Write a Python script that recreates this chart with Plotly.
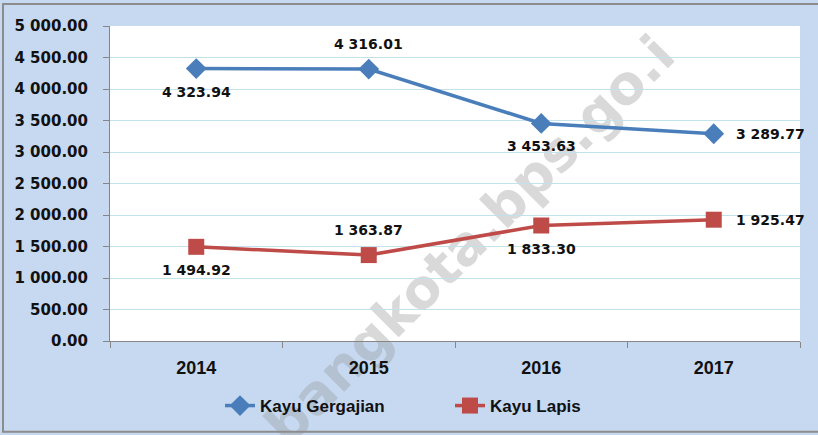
import plotly.graph_objects as go

years = ["2014", "2015", "2016", "2017"]
kayu_gergajian = [4323.94, 4316.01, 3453.63, 3289.77]
kayu_lapis = [1494.92, 1363.87, 1833.30, 1925.47]
y_ticks = [0, 500, 1000, 1500, 2000, 2500, 3000, 3500, 4000, 4500, 5000]

# label placement per point (style only)
pos_gergajian = ["below", "above", "below", "right"]
pos_lapis = ["below", "above", "below", "right"]

BLUE = "#4a7ebb"
RED = "#be4b48"
BG = "#c6d9f1"

W, H = 818, 435
L, R, T, B = 110, 18, 26, 93
pw, ph = W - L - R, H - T - B

def px2paper(px, py):
    return (px - L) / pw, (H - B - py) / ph

def fmt(v):
    s = f"{v:,.2f}"
    return s.replace(",", " ")

fig = go.Figure()
fig.add_trace(go.Scatter(
    x=years, y=kayu_gergajian, name="Kayu Gergajian", mode="lines+markers",
    line=dict(color=BLUE, width=3.5),
    marker=dict(symbol="diamond", size=16, color=BLUE),
))
fig.add_trace(go.Scatter(
    x=years, y=kayu_lapis, name="Kayu Lapis", mode="lines+markers",
    line=dict(color=RED, width=3.5),
    marker=dict(symbol="square", size=16, color=RED),
))

label_font = dict(family="DejaVu Sans", size=14, color="#111111", weight="bold")
annotations = []
for vals, poss in ((kayu_gergajian, pos_gergajian), (kayu_lapis, pos_lapis)):
    for i, (v, p) in enumerate(zip(vals, poss)):
        a = dict(x=i, y=v, xref="x", yref="y", text=fmt(v), showarrow=False,
                 font=label_font)
        if p == "below":
            a.update(yshift=-23, xanchor="center", yanchor="middle")
        elif p == "above":
            a.update(yshift=25, xanchor="center", yanchor="middle")
        else:
            a.update(xshift=20, xanchor="left", yanchor="middle")
        annotations.append(a)

shapes = []
# watermark (drawn beneath the data)
wx, wy = px2paper(467, 238)
shapes.append(dict(
    type="rect", xref="paper", yref="paper",
    x0=wx - 0.01, x1=wx + 0.01, y0=wy - 0.01, y1=wy + 0.01,
    line=dict(width=0), fillcolor="rgba(0,0,0,0)", layer="below",
    label=dict(text="bangkota.bps.go.i", textangle=-45, textposition="middle center",
               font=dict(family="DejaVu Sans", size=54, color="rgba(150,150,150,0.36)",
                         weight="bold")),
))

bx0, by0 = px2paper(3, 433)
bx1, by1 = px2paper(830, 4)
shapes.append(dict(type="rect", xref="paper", yref="paper", x0=bx0, x1=bx1, y0=by0, y1=by1,
                   line=dict(color="#8c8c8c", width=2), fillcolor="rgba(0,0,0,0)",
                   layer="above"))

lx, ly = px2paper(450, 406)

fig.update_layout(
    width=W, height=H,
    margin=dict(l=L, r=R, t=T, b=B, pad=0),
    paper_bgcolor=BG, plot_bgcolor="white",
    separators=". ",
    showlegend=True,
    legend=dict(orientation="h", x=lx, y=ly, xanchor="center", yanchor="middle",
                bgcolor="rgba(0,0,0,0)",
                font=dict(family="Liberation Sans", size=17, color="#111111", weight="bold"),
                entrywidth=185, entrywidthmode="pixels"),
    annotations=annotations,
    shapes=shapes,
    xaxis=dict(type="category", range=[-0.5, 3.5], showgrid=False,
               showline=True, linecolor="#868686", linewidth=1,
               ticks="outside", tickson="boundaries", ticklen=6, tickcolor="#868686",
               tickfont=dict(family="Liberation Sans", size=18, color="#111111", weight="bold"),
               ticklabelstandoff=10),
    yaxis=dict(range=[0, 5000], tickvals=y_ticks, tickformat=",.2f",
               showgrid=True, gridcolor="#c2e1ea", gridwidth=1,
               showline=True, linecolor="#868686", linewidth=1,
               ticks="outside", ticklen=6, tickcolor="#868686",
               tickfont=dict(family="DejaVu Sans", size=15, color="#111111", weight="bold"),
               ticklabelstandoff=12, zeroline=False),
)

fig.write_html("out.html", config={"displayModeBar": False},
               post_script="document.body.style.margin='0';")
